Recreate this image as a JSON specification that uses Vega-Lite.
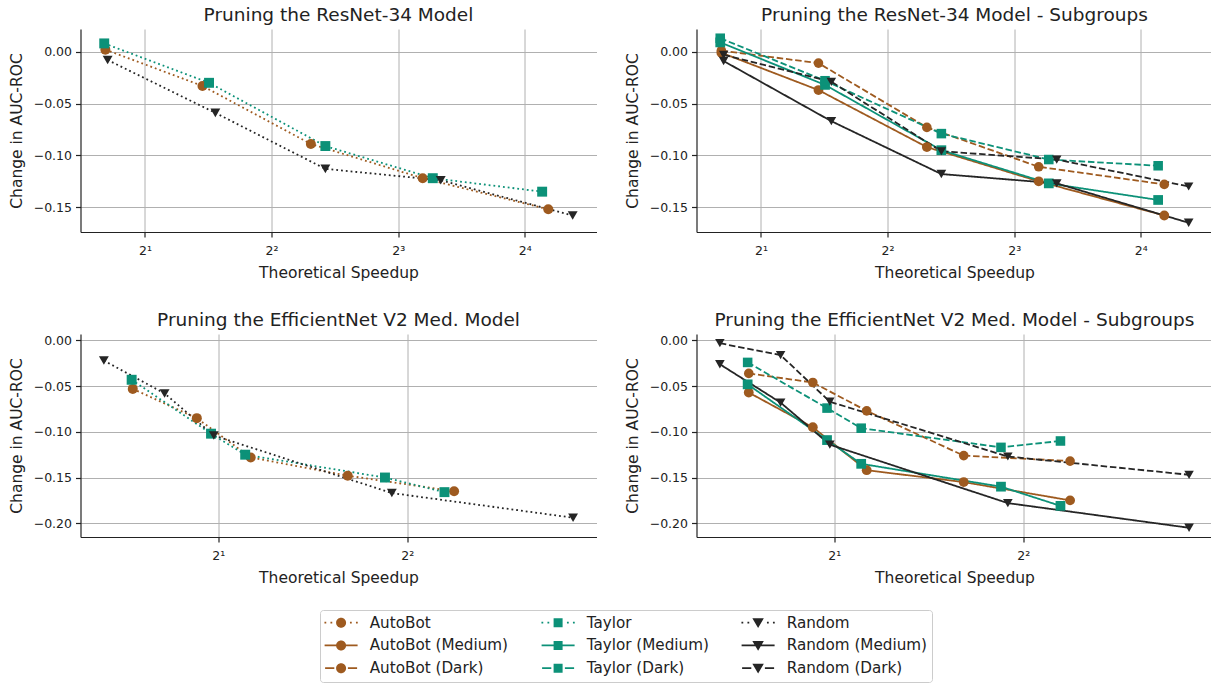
{
  "$schema": "https://vega.github.io/schema/vega-lite/v6.json",
  "padding": {"left": 8.5, "top": 5, "right": 0, "bottom": 0},
  "background": "white",
  "config": {
    "font": "DejaVu Sans",
    "view": {"stroke": null},
    "axis": {
      "labelFont": "DejaVu Sans", "labelFontSize": 12.5, "labelColor": "#222222",
      "titleFont": "DejaVu Sans", "titleFontSize": 15.5, "titleFontWeight": "normal", "titleColor": "#222222",
      "domainColor": "#222222", "domainWidth": 1.2, "tickColor": "#222222", "tickWidth": 1.2, "tickSize": 5,
      "gridColor": "#b0b0b0", "gridWidth": 1, "labelPadding": 4, "titlePadding": 9
    },
    "axisX": {"labelPadding": 7, "titlePadding": 8.5},
    "title": {"font": "DejaVu Sans", "fontSize": 18.5, "fontWeight": "normal", "color": "#222222", "offset": 5, "baseline": "alphabetic"}
  },
  "data": {"values": [
    {"p":1,"s":"AutoBot","x":1.61,"y":0.002},{"p":1,"s":"AutoBot","x":2.74,"y":-0.033},{"p":1,"s":"AutoBot","x":4.96,"y":-0.089},{"p":1,"s":"AutoBot","x":9.15,"y":-0.122},{"p":1,"s":"AutoBot","x":18.2,"y":-0.152},
    {"p":1,"s":"Taylor","x":1.60,"y":0.008},{"p":1,"s":"Taylor","x":2.84,"y":-0.030},{"p":1,"s":"Taylor","x":5.37,"y":-0.091},{"p":1,"s":"Taylor","x":9.67,"y":-0.122},{"p":1,"s":"Taylor","x":17.6,"y":-0.135},
    {"p":1,"s":"Random","x":1.63,"y":-0.008},{"p":1,"s":"Random","x":2.94,"y":-0.059},{"p":1,"s":"Random","x":5.37,"y":-0.113},{"p":1,"s":"Random","x":10.1,"y":-0.124},{"p":1,"s":"Random","x":20.8,"y":-0.158},
    {"p":2,"s":"AutoBot (Medium)","x":1.61,"y":-0.001},{"p":2,"s":"AutoBot (Medium)","x":2.74,"y":-0.037},{"p":2,"s":"AutoBot (Medium)","x":4.96,"y":-0.092},{"p":2,"s":"AutoBot (Medium)","x":9.15,"y":-0.125},{"p":2,"s":"AutoBot (Medium)","x":18.2,"y":-0.158},
    {"p":2,"s":"AutoBot (Dark)","x":1.61,"y":0.001},{"p":2,"s":"AutoBot (Dark)","x":2.74,"y":-0.011},{"p":2,"s":"AutoBot (Dark)","x":4.96,"y":-0.073},{"p":2,"s":"AutoBot (Dark)","x":9.15,"y":-0.111},{"p":2,"s":"AutoBot (Dark)","x":18.2,"y":-0.128},
    {"p":2,"s":"Taylor (Medium)","x":1.60,"y":0.009},{"p":2,"s":"Taylor (Medium)","x":2.84,"y":-0.032},{"p":2,"s":"Taylor (Medium)","x":5.37,"y":-0.095},{"p":2,"s":"Taylor (Medium)","x":9.67,"y":-0.127},{"p":2,"s":"Taylor (Medium)","x":17.6,"y":-0.143},
    {"p":2,"s":"Taylor (Dark)","x":1.60,"y":0.013},{"p":2,"s":"Taylor (Dark)","x":2.84,"y":-0.028},{"p":2,"s":"Taylor (Dark)","x":5.37,"y":-0.079},{"p":2,"s":"Taylor (Dark)","x":9.67,"y":-0.104},{"p":2,"s":"Taylor (Dark)","x":17.6,"y":-0.110},
    {"p":2,"s":"Random (Medium)","x":1.63,"y":-0.009},{"p":2,"s":"Random (Medium)","x":2.94,"y":-0.067},{"p":2,"s":"Random (Medium)","x":5.37,"y":-0.118},{"p":2,"s":"Random (Medium)","x":10.1,"y":-0.127},{"p":2,"s":"Random (Medium)","x":20.8,"y":-0.165},
    {"p":2,"s":"Random (Dark)","x":1.63,"y":-0.003},{"p":2,"s":"Random (Dark)","x":2.94,"y":-0.029},{"p":2,"s":"Random (Dark)","x":5.37,"y":-0.096},{"p":2,"s":"Random (Dark)","x":10.1,"y":-0.104},{"p":2,"s":"Random (Dark)","x":20.8,"y":-0.130},
    {"p":3,"s":"AutoBot","x":1.461,"y":-0.053},{"p":3,"s":"AutoBot","x":1.848,"y":-0.085},{"p":3,"s":"AutoBot","x":2.252,"y":-0.128},{"p":3,"s":"AutoBot","x":3.215,"y":-0.148},{"p":3,"s":"AutoBot","x":4.75,"y":-0.165},
    {"p":3,"s":"Taylor","x":1.455,"y":-0.043},{"p":3,"s":"Taylor","x":1.947,"y":-0.102},{"p":3,"s":"Taylor","x":2.207,"y":-0.125},{"p":3,"s":"Taylor","x":3.686,"y":-0.150},{"p":3,"s":"Taylor","x":4.585,"y":-0.166},
    {"p":3,"s":"Random","x":1.314,"y":-0.022},{"p":3,"s":"Random","x":1.642,"y":-0.058},{"p":3,"s":"Random","x":1.967,"y":-0.104},{"p":3,"s":"Random","x":3.78,"y":-0.167},{"p":3,"s":"Random","x":7.35,"y":-0.194},
    {"p":4,"s":"AutoBot (Medium)","x":1.461,"y":-0.057},{"p":4,"s":"AutoBot (Medium)","x":1.848,"y":-0.095},{"p":4,"s":"AutoBot (Medium)","x":2.252,"y":-0.142},{"p":4,"s":"AutoBot (Medium)","x":3.215,"y":-0.155},{"p":4,"s":"AutoBot (Medium)","x":4.75,"y":-0.175},
    {"p":4,"s":"AutoBot (Dark)","x":1.461,"y":-0.036},{"p":4,"s":"AutoBot (Dark)","x":1.848,"y":-0.046},{"p":4,"s":"AutoBot (Dark)","x":2.252,"y":-0.077},{"p":4,"s":"AutoBot (Dark)","x":3.215,"y":-0.126},{"p":4,"s":"AutoBot (Dark)","x":4.75,"y":-0.132},
    {"p":4,"s":"Taylor (Medium)","x":1.455,"y":-0.048},{"p":4,"s":"Taylor (Medium)","x":1.947,"y":-0.109},{"p":4,"s":"Taylor (Medium)","x":2.207,"y":-0.135},{"p":4,"s":"Taylor (Medium)","x":3.686,"y":-0.160},{"p":4,"s":"Taylor (Medium)","x":4.585,"y":-0.181},
    {"p":4,"s":"Taylor (Dark)","x":1.455,"y":-0.024},{"p":4,"s":"Taylor (Dark)","x":1.947,"y":-0.074},{"p":4,"s":"Taylor (Dark)","x":2.207,"y":-0.096},{"p":4,"s":"Taylor (Dark)","x":3.686,"y":-0.117},{"p":4,"s":"Taylor (Dark)","x":4.585,"y":-0.110},
    {"p":4,"s":"Random (Medium)","x":1.314,"y":-0.026},{"p":4,"s":"Random (Medium)","x":1.642,"y":-0.068},{"p":4,"s":"Random (Medium)","x":1.967,"y":-0.114},{"p":4,"s":"Random (Medium)","x":3.78,"y":-0.178},{"p":4,"s":"Random (Medium)","x":7.35,"y":-0.205},
    {"p":4,"s":"Random (Dark)","x":1.314,"y":-0.003},{"p":4,"s":"Random (Dark)","x":1.642,"y":-0.016},{"p":4,"s":"Random (Dark)","x":1.967,"y":-0.067},{"p":4,"s":"Random (Dark)","x":3.78,"y":-0.127},{"p":4,"s":"Random (Dark)","x":7.35,"y":-0.147}
  ]},
  "columns": 2,
  "bounds": "flush",
  "spacing": {"row": 102, "column": 100},
  "concat": [
    {
      "width": 516, "height": 203,
      "title": "Pruning the ResNet-34 Model",
      "transform": [{"filter": "datum.p == 1"}],
      "encoding": {
        "x": {"field": "x", "type": "quantitative", "scale": {"type": "log", "base": 2, "domain": [1.405, 23.7], "nice": false}, "axis": {"values": [2, 4, 8, 16], "labelExpr": "'2' + (datum.value == 2 ? '¹' : datum.value == 4 ? '²' : datum.value == 8 ? '³' : '⁴')", "title": "Theoretical Speedup"}},
        "y": {"field": "y", "type": "quantitative", "scale": {"domain": [-0.1739, 0.0219], "nice": false, "zero": false}, "axis": {"values": [0, -0.05, -0.1, -0.15], "format": ".2f", "title": "Change in AUC-ROC"}},
        "color": {"field": "s", "type": "nominal",
          "scale": {"domain": ["AutoBot", "AutoBot (Medium)", "AutoBot (Dark)", "Taylor", "Taylor (Medium)", "Taylor (Dark)", "Random", "Random (Medium)", "Random (Dark)"], "range": ["#9e5a1f", "#9e5a1f", "#9e5a1f", "#0c9178", "#0c9178", "#0c9178", "#252525", "#252525", "#252525"]},
          "legend": {"orient": "none", "legendX": 239.5, "legendY": 581, "columns": 3, "title": null, "labelFont": "DejaVu Sans", "labelFontSize": 15.2, "labelColor": "#222222", "strokeColor": "#cccccc", "fillColor": "white", "cornerRadius": 3, "padding": 5, "rowPadding": 6.8, "columnPadding": 32, "symbolOffset": 8.5, "labelOffset": 21, "symbolSize": 100, "symbolStrokeWidth": 0,
            "encode": {"symbols": {"update": {
              "shape": {"signal": "(indexof(datum.value,'Medium')>=0 ? 'M-3.3,-0.18H3.3V0.18H-3.3Z' : indexof(datum.value,'Dark')>=0 ? 'M-3.2,-0.18H-1.36V0.18H-3.2ZM1.36,-0.18H3.2V0.18H1.36Z' : 'M-3.33,-0.18H-2.97V0.18H-3.33ZM-2.13,-0.18H-1.77V0.18H-2.13ZM1.77,-0.18H2.13V0.18H1.77ZM2.97,-0.18H3.33V0.18H2.97Z') + (indexof(datum.value,'AutoBot')>=0 ? 'M1,0A1,1,0,1,1,-1,0A1,1,0,1,1,1,0Z' : indexof(datum.value,'Taylor')>=0 ? 'M-0.9,-0.9H0.9V0.9H-0.9Z' : 'M-1.15,-0.9H1.15L0,1.05Z')"},
              "strokeWidth": {"value": 0},
              "opacity": {"value": 1},
              "size": {"value": 100}
            }}}
          }
        }
      },
      "layer": [
        {"mark": {"type": "line", "strokeWidth": 1.8}, "encoding": {"strokeDash": {"field": "s", "type": "nominal", "scale": {"domain": ["Random (Dark)", "Taylor (Dark)", "AutoBot (Dark)", "Random (Medium)", "Taylor (Medium)", "AutoBot (Medium)", "Random", "Taylor", "AutoBot"], "range": [[6.5,2.8],[6.5,2.8],[6.5,2.8],[1,0],[1,0],[1,0],[1.8,3],[1.8,3],[1.8,3]]}, "legend": null}}},
        {"mark": {"type": "point", "filled": true, "opacity": 1}, "encoding": {
          "shape": {"field": "s", "type": "nominal", "scale": {"domain": ["AutoBot", "Taylor", "Random", "AutoBot (Medium)", "Taylor (Medium)", "Random (Medium)", "AutoBot (Dark)", "Taylor (Dark)", "Random (Dark)"], "range": ["circle", "square", "triangle-down", "circle", "square", "triangle-down", "circle", "square", "triangle-down"]}, "legend": null},
          "size": {"field": "s", "type": "nominal", "scale": {"domain": ["AutoBot", "Taylor", "Random", "AutoBot (Medium)", "Taylor (Medium)", "Random (Medium)", "AutoBot (Dark)", "Taylor (Dark)", "Random (Dark)"], "range": [100, 90, 140, 100, 90, 140, 100, 90, 140]}, "legend": null}
        }}
      ]
    },
    {
      "width": 516, "height": 203,
      "title": "Pruning the ResNet-34 Model - Subgroups",
      "transform": [{"filter": "datum.p == 2"}],
      "encoding": {
        "x": {"field": "x", "type": "quantitative", "scale": {"type": "log", "base": 2, "domain": [1.405, 23.7], "nice": false}, "axis": {"values": [2, 4, 8, 16], "labelExpr": "'2' + (datum.value == 2 ? '¹' : datum.value == 4 ? '²' : datum.value == 8 ? '³' : '⁴')", "title": "Theoretical Speedup"}},
        "y": {"field": "y", "type": "quantitative", "scale": {"domain": [-0.1739, 0.0219], "nice": false, "zero": false}, "axis": {"values": [0, -0.05, -0.1, -0.15], "format": ".2f", "title": "Change in AUC-ROC"}},
        "color": {"field": "s", "type": "nominal"}
      },
      "layer": [
        {"mark": {"type": "line", "strokeWidth": 1.8}, "encoding": {"strokeDash": {"field": "s", "type": "nominal", "legend": null}}},
        {"mark": {"type": "point", "filled": true, "opacity": 1}, "encoding": {"shape": {"field": "s", "type": "nominal", "legend": null}, "size": {"field": "s", "type": "nominal", "legend": null}}}
      ]
    },
    {
      "width": 516, "height": 203,
      "title": "Pruning the EfficientNet V2 Med. Model",
      "transform": [{"filter": "datum.p == 3"}],
      "encoding": {
        "x": {"field": "x", "type": "quantitative", "scale": {"type": "log", "base": 2, "domain": [1.206, 8.01], "nice": false}, "axis": {"values": [2, 4], "labelExpr": "'2' + (datum.value == 2 ? '¹' : '²')", "title": "Theoretical Speedup"}},
        "y": {"field": "y", "type": "quantitative", "scale": {"domain": [-0.2151, 0.0071], "nice": false, "zero": false}, "axis": {"values": [0, -0.05, -0.1, -0.15, -0.2], "format": ".2f", "title": "Change in AUC-ROC"}},
        "color": {"field": "s", "type": "nominal"}
      },
      "layer": [
        {"mark": {"type": "line", "strokeWidth": 1.8}, "encoding": {"strokeDash": {"field": "s", "type": "nominal", "legend": null}}},
        {"mark": {"type": "point", "filled": true, "opacity": 1}, "encoding": {"shape": {"field": "s", "type": "nominal", "legend": null}, "size": {"field": "s", "type": "nominal", "legend": null}}}
      ]
    },
    {
      "width": 516, "height": 203,
      "title": "Pruning the EfficientNet V2 Med. Model - Subgroups",
      "transform": [{"filter": "datum.p == 4"}],
      "encoding": {
        "x": {"field": "x", "type": "quantitative", "scale": {"type": "log", "base": 2, "domain": [1.206, 8.01], "nice": false}, "axis": {"values": [2, 4], "labelExpr": "'2' + (datum.value == 2 ? '¹' : '²')", "title": "Theoretical Speedup"}},
        "y": {"field": "y", "type": "quantitative", "scale": {"domain": [-0.2151, 0.0071], "nice": false, "zero": false}, "axis": {"values": [0, -0.05, -0.1, -0.15, -0.2], "format": ".2f", "title": "Change in AUC-ROC"}},
        "color": {"field": "s", "type": "nominal"}
      },
      "layer": [
        {"mark": {"type": "line", "strokeWidth": 1.8}, "encoding": {"strokeDash": {"field": "s", "type": "nominal", "legend": null}}},
        {"mark": {"type": "point", "filled": true, "opacity": 1}, "encoding": {"shape": {"field": "s", "type": "nominal", "legend": null}, "size": {"field": "s", "type": "nominal", "legend": null}}}
      ]
    }
  ]
}
